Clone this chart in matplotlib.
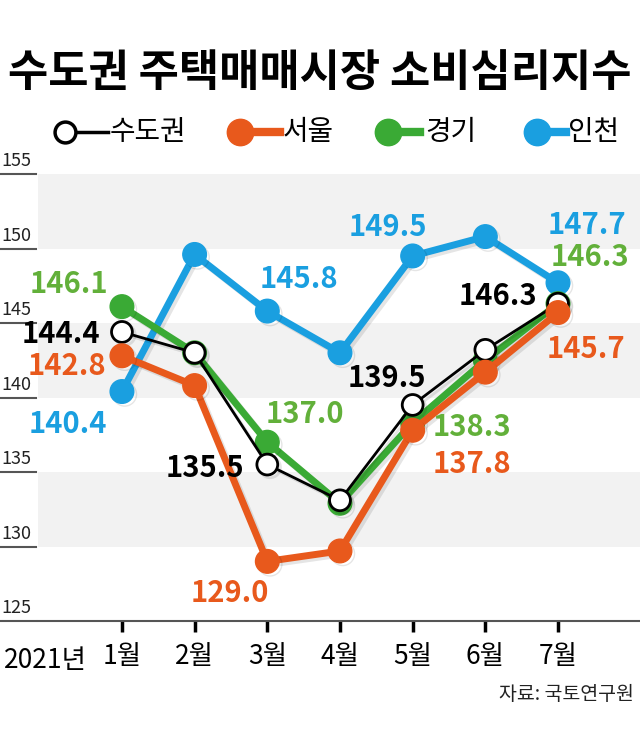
import matplotlib
matplotlib.use('Agg')
import matplotlib.pyplot as plt
import matplotlib.patheffects as pe
from matplotlib.lines import Line2D

plt.rcParams['font.family'] = ['Noto Sans CJK KR', 'DejaVu Sans']

months = ['1월', '2월', '3월', '4월', '5월', '6월', '7월']
metro = [144.4, 143.0, 135.5, 133.1, 139.5, 143.2, 146.3]
seoul = [142.8, 140.8, 129.0, 129.7, 137.8, 141.7, 145.7]
gyeonggi = [146.1, 143.0, 137.0, 132.9, 138.3, 142.5, 146.3]
incheon = [140.4, 149.6, 145.8, 143.0, 149.5, 150.8, 147.7]
yticks = [125, 130, 135, 140, 145, 150, 155]

# which points get a value label, and where (pixel offset from the point)
lab_metro = {0: (-61, -2), 2: (-62, -3), 4: (-26, 27), 6: (-60, 8)}
lab_seoul = {0: (-55, -10), 2: (-37, -32), 4: (59, -34), 6: (28, -36)}
lab_gg = {0: (-53, 23), 2: (38, 28), 4: (59, -4), 6: (32, 47)}
lab_ic = {0: (-54, -32), 2: (32, 32), 4: (-25, 29), 6: (29, 58)}

c_orange = '#e8591c'
c_green = '#3aaa35'
c_green_txt = '#62b03a'
c_blue = '#1a9fe0'

fig = plt.figure(figsize=(6.4, 7.31), dpi=100)
ax = fig.add_axes([38 / 640, 1 - 621 / 731, 602 / 640, 447 / 731])
ax.set_xlim(-1.155, 7.128)
ax.set_ylim(125, 155)

for lo in [130, 140, 150]:
    ax.axhspan(lo, lo + 5, color='#f2f2f2', lw=0, zorder=0)

x = list(range(len(months)))
shadow = [pe.SimpleLineShadow(offset=(2, -2), alpha=0.1, shadow_color='k'), pe.Normal()]

ax.plot(x, incheon, color=c_blue, lw=5, marker='o', ms=17, zorder=3, path_effects=shadow)
ax.plot(x, gyeonggi, color=c_green, lw=5, marker='o', ms=17, zorder=4, path_effects=shadow)
ax.plot(x, metro, color='black', lw=2, marker='o', ms=15, mfc='white', mec='black', mew=2,
        zorder=5, path_effects=shadow)
ax.plot(x, seoul, color=c_orange, lw=5, marker='o', ms=17, zorder=6, path_effects=shadow)

def put_labels(vals, offs, col):
    for i, (dx, dy) in offs.items():
        ax.annotate(f'{vals[i]:.1f}', (i, vals[i]), xytext=(dx, dy), textcoords='offset pixels',
                    ha='center', va='center', fontsize=21, fontweight='bold', color=col, zorder=8)

put_labels(incheon, lab_ic, c_blue)
put_labels(gyeonggi, lab_gg, c_green_txt)
put_labels(metro, lab_metro, 'black')
put_labels(seoul, lab_seoul, c_orange)

for s in ['top', 'right', 'left']:
    ax.spines[s].set_visible(False)
ax.spines['bottom'].set_color('#555555')
ax.spines['bottom'].set_linewidth(1.5)
ax.set_yticks([])
ax.set_xticks(x)
ax.set_xticklabels(months, fontsize=19)
ax.tick_params(axis='x', length=8, width=2.5, color='black', pad=8)

ytr = ax.get_yaxis_transform()
for v in yticks:
    ax.plot([-0.063, -0.004], [v, v], color='#555555', lw=1.5, transform=ytr, clip_on=False)
    ax.text(-0.061, v + 0.25, str(v), transform=ytr, ha='left', va='bottom', fontsize=13,
            color='#222222')

fig.text(4 / 640, 1 - 660 / 731, '2021년', fontsize=19, va='center', ha='left')
fig.text(634 / 640, 1 - 694 / 731, '자료: 국토연구원', fontsize=14, va='center', ha='right',
         color='#222222')

fig.text(0.5, 1 - 73 / 731, '수도권 주택매매시장 소비심리지수', fontsize=31.5, fontweight='bold',
         ha='center', va='center')

# legend
ly = 1 - 132 / 731
leg = [('수도권', 'black', 65, 108, 110), ('서울', c_orange, 240, 280, 283),
       ('경기', c_green, 388, 420, 425), ('인천', c_blue, 537, 566, 568)]
for name, col, mx, lx, tx in leg:
    if col == 'black':
        fig.add_artist(Line2D([mx / 640, lx / 640], [ly, ly], color='black', lw=2.5,
                              transform=fig.transFigure))
        fig.add_artist(Line2D([mx / 640], [ly], marker='o', ms=15, mfc='white', mec='black',
                              mew=2.5, transform=fig.transFigure))
    else:
        fig.add_artist(Line2D([mx / 640, lx / 640], [ly, ly], color=col, lw=6,
                              transform=fig.transFigure))
        fig.add_artist(Line2D([mx / 640], [ly], marker='o', ms=19, color=col,
                              transform=fig.transFigure))
    fig.text(tx / 640, ly, name, fontsize=20, va='center', ha='left')

fig.savefig('out.png', dpi=100)
